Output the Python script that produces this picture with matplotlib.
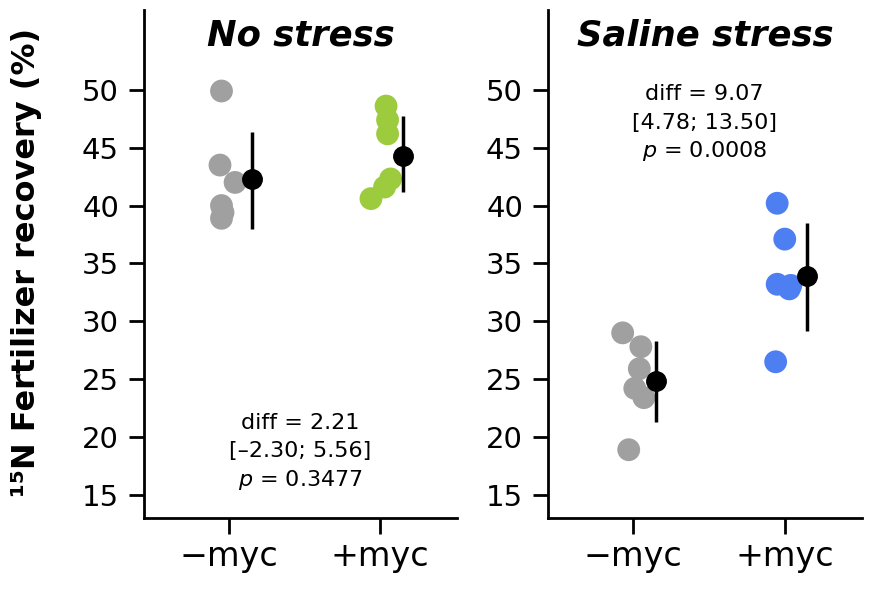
import numpy as np
import matplotlib
matplotlib.use('Agg')
from matplotlib import pyplot as plt

# --- data -----------------------------------------------------------------
groups = ['\u2212myc', '+myc']
panels = ['No stress', 'Saline stress']

# individual replicates
no_minus = [49.9, 43.5, 42.0, 40.0, 39.4, 38.9]
no_plus = [48.6, 47.4, 46.2, 42.3, 41.6, 40.6]
sal_minus = [29.0, 27.8, 25.9, 24.2, 23.4, 18.9]
sal_plus = [40.2, 37.1, 33.2, 33.1, 32.8, 26.5]

# horizontal jitter of the replicates
jit_no_minus = [-0.05, -0.06, 0.04, -0.05, -0.04, -0.05]
jit_no_plus = [0.04, 0.05, 0.05, 0.07, 0.03, -0.06]
jit_sal_minus = [-0.07, 0.05, 0.04, 0.01, 0.07, -0.03]
jit_sal_plus = [-0.05, 0.0, -0.05, 0.04, 0.03, -0.06]

# group means and 95% CI
no_mean = [42.3, 44.3]
no_lo = [38.0, 41.2]
no_hi = [46.4, 47.7]
sal_mean = [24.8, 33.9]
sal_lo = [21.3, 29.2]
sal_hi = [28.3, 38.5]

no_stats = ['diff = 2.21', '[\u20132.30; 5.56]', '$p$ = 0.3477']
sal_stats = ['diff = 9.07', '[4.78; 13.50]', '$p$ = 0.0008']

GREY = '#a0a0a0'
GREEN = '#9ccb3e'
BLUE = '#4d7ef2'
################################################################################

fig = plt.figure(figsize=(8.73, 5.93), dpi=100)
ax1 = fig.add_axes([0.165, 0.1265, 0.3585, 0.8566])
ax2 = fig.add_axes([0.6277, 0.1265, 0.3597, 0.8566])


def draw_panel(ax, title, minus, plus, jm, jp, col, mean, lo, hi, stats, stat_y):
    x = np.arange(1, 3)
    ax.scatter(1 + np.array(jm), minus, s=270, color=GREY, edgecolors='none', zorder=2)
    ax.scatter(2 + np.array(jp), plus, s=270, color=col, edgecolors='none', zorder=2)
    mean = np.array(mean)
    err = [mean - np.array(lo), np.array(hi) - mean]
    ax.errorbar(x + 0.15, mean, yerr=err, fmt='o', color='black', ms=14,
                elinewidth=2.5, capsize=0, zorder=3)

    ax.set_xlim(0.437, 2.51)
    ax.set_ylim(13.0, 56.9)
    ax.set_yticks(np.arange(15, 51, 5))
    ax.set_xticks(x)
    ax.set_xticklabels(groups)
    for s in ['top', 'right']:
        ax.spines[s].set_visible(False)
    for s in ['left', 'bottom']:
        ax.spines[s].set_linewidth(2)
    ax.tick_params(axis='y', length=11, width=2, labelsize=21, pad=7)
    ax.tick_params(axis='x', length=11.5, width=2, labelsize=24, pad=4)

    ax.text(0.5, 0.95, title, transform=ax.transAxes, ha='center', va='center',
            fontsize=25.5, fontweight='bold', fontstyle='italic')
    for i, line in enumerate(stats):
        ax.text(1.47, stat_y - i * 2.45, line, ha='center', va='center', fontsize=16)


draw_panel(ax1, panels[0], no_minus, no_plus, jit_no_minus, jit_no_plus, GREEN,
           no_mean, no_lo, no_hi, no_stats, 21.2)
draw_panel(ax2, panels[1], sal_minus, sal_plus, jit_sal_minus, jit_sal_plus, BLUE,
           sal_mean, sal_lo, sal_hi, sal_stats, 49.6)

fig.text(0.03, 0.558, '\u00b9\u2075N Fertilizer recovery (%)', rotation=90,
         ha='center', va='center', fontsize=23, fontweight='bold')

fig.savefig('out.png', dpi=100)
